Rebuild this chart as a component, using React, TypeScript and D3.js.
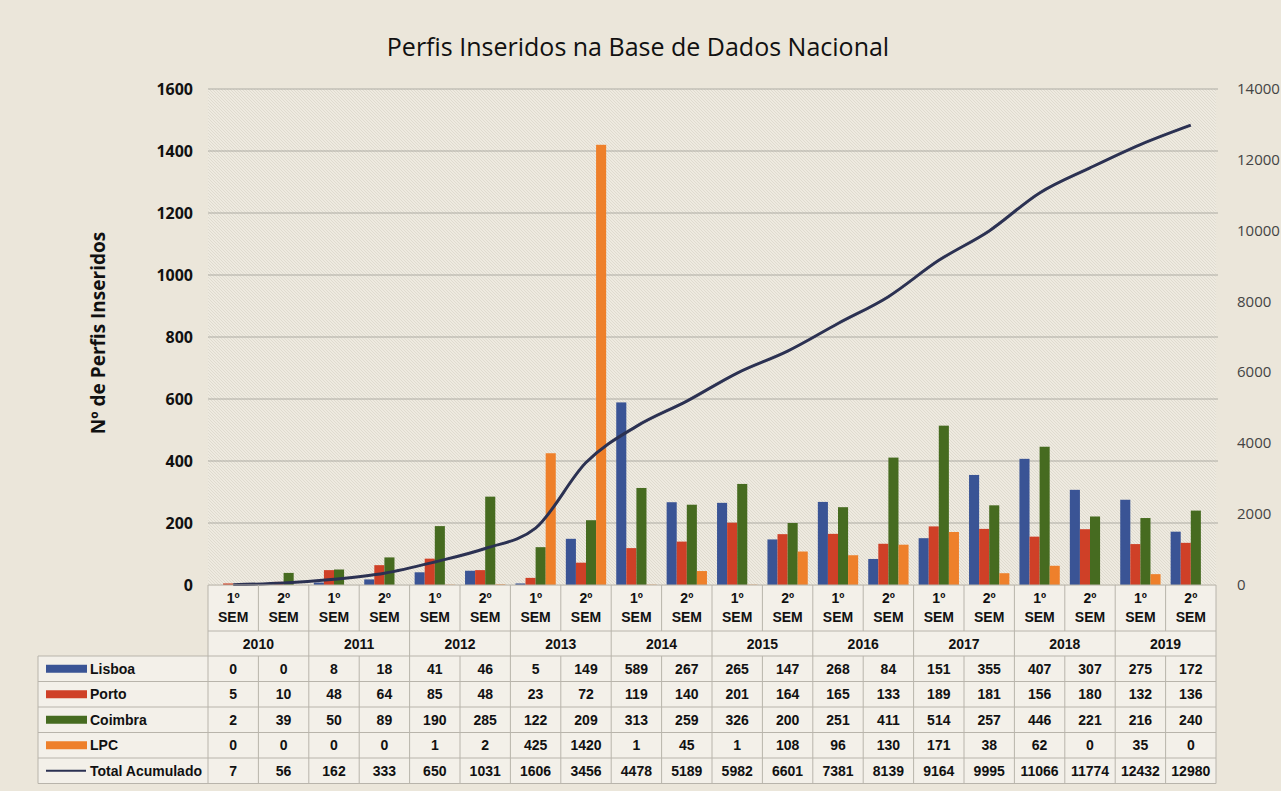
import * as d3 from "d3";

const years = ["2010", "2011", "2012", "2013", "2014", "2015", "2016", "2017", "2018", "2019"];
const semesters = ["1º", "2º"];
const lisboa = [0, 0, 8, 18, 41, 46, 5, 149, 589, 267, 265, 147, 268, 84, 151, 355, 407, 307, 275, 172];
const porto = [5, 10, 48, 64, 85, 48, 23, 72, 119, 140, 201, 164, 165, 133, 189, 181, 156, 180, 132, 136];
const coimbra = [2, 39, 50, 89, 190, 285, 122, 209, 313, 259, 326, 200, 251, 411, 514, 257, 446, 221, 216, 240];
const lpc = [0, 0, 0, 0, 1, 2, 425, 1420, 1, 45, 1, 108, 96, 130, 171, 38, 62, 0, 35, 0];
const totalAcumulado = [7, 56, 162, 333, 650, 1031, 1606, 3456, 4478, 5189, 5982, 6601, 7381, 8139, 9164, 9995, 11066, 11774, 12432, 12980];
const leftTicks = [0, 200, 400, 600, 800, 1000, 1200, 1400, 1600];
const rightTicks = [0, 2000, 4000, 6000, 8000, 10000, 12000, 14000];

const series = [
  { name: "Lisboa", values: lisboa, color: "#3a5495" },
  { name: "Porto", values: porto, color: "#cf4027" },
  { name: "Coimbra", values: coimbra, color: "#466b20" },
  { name: "LPC", values: lpc, color: "#ee802b" },
];

const W = 1281;
const H = 791;
const plotLeft = 208;
const plotRight = 1216;
const plotTop = 89;
const plotBottom = 585;
const tableLeft = 38;
const rowTop = 656;
const rowH = 25.5;
const tableFont = "'Liberation Sans Narrow', 'Liberation Sans', Arial, sans-serif";
const uiFont = "'Open Sans', 'Noto Sans', sans-serif";

const cats = years.flatMap((y) => semesters.map((s) => `${y}-${s}`));

export default function App() {
  const x = d3.scaleBand<string>().domain(cats).range([plotLeft, plotRight]).padding(0);
  const bw = x.bandwidth();
  const xs = d3
    .scaleBand<string>()
    .domain(series.map((s) => s.name))
    .range([bw * 0.1, bw * 0.9])
    .padding(0);
  const yL = d3.scaleLinear().domain([0, 1600]).range([plotBottom, plotTop]);
  const yR = d3.scaleLinear().domain([0, 14000]).range([plotBottom, plotTop]);

  const line = d3
    .line<number>()
    .x((_, i) => (x(cats[i]) ?? 0) + bw / 2)
    .y((d) => yR(d))
    .curve(d3.curveMonotoneX);

  const rows = [...series.map((s) => ({ name: s.name, values: s.values, color: s.color, isLine: false })),
    { name: "Total Acumulado", values: totalAcumulado, color: "#2b3152", isLine: true }];
  const tableBottom = rowTop + rowH * rows.length;
  const grid = "#b8b4ab";

  return (
    <svg width={W} height={H} style={{ position: "absolute", left: 0, top: 0, display: "block" }}>
      <defs>
        <pattern id="hatch" patternUnits="userSpaceOnUse" width={3} height={3}>
          <path d="M-1,-1 L4,4 M-1,2 L1,4 M2,-1 L4,1" stroke="rgba(120,110,90,0.16)" strokeWidth={0.8} />
        </pattern>
      </defs>
      <rect width={W} height={H} fill="#ebe6da" />
      <rect x={plotLeft} y={plotTop} width={plotRight - plotLeft} height={plotBottom - plotTop} fill="#eeeae0" />
      <rect x={plotLeft} y={plotTop} width={plotRight - plotLeft} height={plotBottom - plotTop} fill="url(#hatch)" />

      <text x={638} y={56} textAnchor="middle" fontFamily={uiFont} fontSize={25} fill="#111">
        Perfis Inseridos na Base de Dados Nacional
      </text>

      {/* grelha e eixo esquerdo */}
      {leftTicks.map((t) => (
        <g key={t}>
          {t > 0 && (
            <line x1={plotLeft} x2={plotRight + 2} y1={yL(t)} y2={yL(t)} stroke="#aeaba3" strokeWidth={1.2} />
          )}
          <text x={193} y={yL(t) + 6} textAnchor="end" fontFamily={uiFont} fontWeight="bold" fontSize={16} fill="#111">
            {t}
          </text>
        </g>
      ))}
      {rightTicks.map((t) => (
        <text key={t} x={1237} y={yR(t) + 5} fontFamily={uiFont} fontSize={15} fill="#444">
          {t}
        </text>
      ))}
      <text
        transform={`translate(105,333) rotate(-90)`}
        textAnchor="middle"
        fontFamily={uiFont}
        fontWeight="bold"
        fontSize={19}
        fill="#111"
      >
        Nº de Perfis Inseridos
      </text>

      {/* barras */}
      {series.map((s) =>
        s.values.map((v, i) => (
          <rect
            key={s.name + i}
            x={(x(cats[i]) ?? 0) + (xs(s.name) ?? 0)}
            y={yL(v)}
            width={xs.bandwidth()}
            height={plotBottom - yL(v)}
            fill={s.color}
          />
        ))
      )}

      {/* total acumulado */}
      <path d={line(totalAcumulado) ?? ""} fill="none" stroke="#2b3152" strokeWidth={3} />

      {/* tabela de dados */}
      <rect x={plotLeft} y={plotBottom + 1} width={plotRight - plotLeft} height={rowTop - plotBottom - 1} fill="#f3f0e9" />
      <rect x={tableLeft} y={rowTop} width={plotRight - tableLeft} height={tableBottom - rowTop} fill="#f3f0e9" />
      {cats.map((c, i) => {
        const cx = (x(c) ?? 0) + bw / 2;
        return (
          <g key={c}>
            <text x={cx} y={603} textAnchor="middle" fontFamily={tableFont} fontWeight="bold" fontSize={14} fill="#111">
              {semesters[i % 2]}
            </text>
            <text x={cx} y={622} textAnchor="middle" fontFamily={tableFont} fontWeight="bold" fontSize={14} fill="#111">
              SEM
            </text>
          </g>
        );
      })}
      {years.map((y, j) => {
        const x0 = x(cats[j * 2]) ?? 0;
        return (
          <text key={y} x={x0 + bw} y={649} textAnchor="middle" fontFamily={tableFont} fontWeight="bold" fontSize={14} fill="#111">
            {y}
          </text>
        );
      })}
      {/* linhas da tabela */}
      {cats.map((c, i) => (
        <line
          key={"v" + c}
          x1={x(c) ?? 0}
          x2={x(c) ?? 0}
          y1={plotBottom}
          y2={i % 2 === 0 ? tableBottom : 631}
          stroke={grid}
          strokeWidth={1}
        />
      ))}
      {cats.map((c, i) =>
        i % 2 === 1 ? (
          <line key={"w" + c} x1={x(c) ?? 0} x2={x(c) ?? 0} y1={rowTop} y2={tableBottom} stroke={grid} strokeWidth={1} />
        ) : null
      )}
      <line x1={plotRight} x2={plotRight} y1={plotBottom} y2={tableBottom} stroke={grid} />
      <line x1={tableLeft} x2={tableLeft} y1={rowTop} y2={tableBottom} stroke={grid} />
      <line x1={plotLeft} x2={plotRight} y1={631} y2={631} stroke={grid} />
      <line x1={plotLeft} x2={plotRight} y1={plotBottom} y2={plotBottom} stroke={grid} />
      {rows.map((r, k) => (
        <line key={"h" + k} x1={tableLeft} x2={plotRight} y1={rowTop + rowH * k} y2={rowTop + rowH * k} stroke={grid} />
      ))}
      <line x1={tableLeft} x2={plotRight} y1={tableBottom} y2={tableBottom} stroke={grid} />

      {rows.map((r, k) => {
        const yc = rowTop + rowH * k + rowH / 2;
        return (
          <g key={r.name}>
            {r.isLine ? (
              <line x1={46} x2={86} y1={yc} y2={yc} stroke={r.color} strokeWidth={2} />
            ) : (
              <rect x={46} y={yc - 4} width={41} height={8} fill={r.color} />
            )}
            <text x={90} y={yc + 5} fontFamily={tableFont} fontWeight="bold" fontSize={14} fill="#111">
              {r.name}
            </text>
            {r.values.map((v, i) => (
              <text
                key={i}
                x={(x(cats[i]) ?? 0) + bw / 2}
                y={yc + 5}
                textAnchor="middle"
                fontFamily={tableFont}
                fontWeight="bold"
                fontSize={14}
                fill="#111"
              >
                {v}
              </text>
            ))}
          </g>
        );
      })}
    </svg>
  );
}
